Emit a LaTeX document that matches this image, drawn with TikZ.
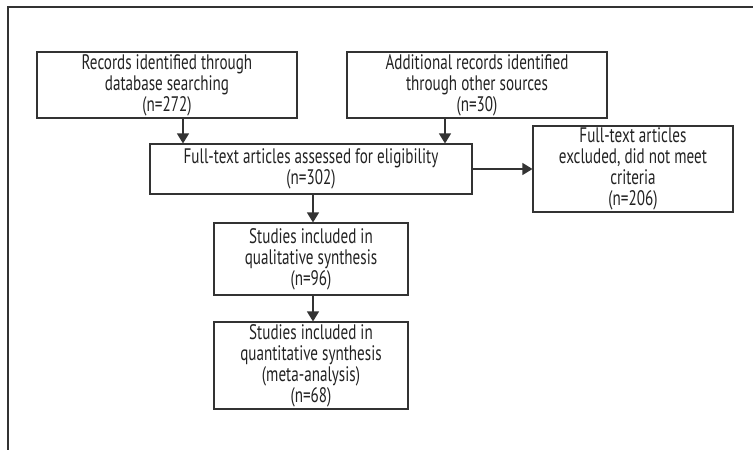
\documentclass[tikz,border=0pt]{standalone}
\usepackage{fontspec}
\setmainfont[FakeStretch=0.72]{PT Sans}
\usetikzlibrary{arrows.meta}
\definecolor{ln}{HTML}{333333}
\definecolor{tx}{HTML}{222222}
\tikzset{
  box/.style={draw=ln, line width=1.1pt, text=tx, align=center, inner sep=0pt,
    font=\fontsize{21}{21}\selectfont},
  arr/.style={draw=ln, line width=1.1pt, -{Triangle[width=12pt,length=10pt]}},
  frame/.style={draw=ln, line width=1.1pt}
}
\begin{document}
\begin{tikzpicture}[x=1pt,y=-1pt]
\useasboundingbox (0,0) rectangle (753,450);
\coordinate (f1) at (8,450);
\coordinate (f2) at (8,7);
\coordinate (f3) at (753,7);
\draw[frame] (f1) -- (f2) -- (f3);
\node[box, minimum width=260pt, minimum height=66pt] (A) at (167,85)
  {Records identified through\\database searching\\(n=272)};
\node[box, minimum width=260pt, minimum height=66pt] (B) at (477,85)
  {Additional records identified\\through other sources\\(n=30)};
\node[box, minimum width=322pt, minimum height=50pt] (C) at (311,169)
  {Full-text articles assessed for eligibility\\(n=302)};
\node[box, minimum width=200pt, minimum height=86pt] (D) at (633,169)
  {Full-text articles\\excluded, did not meet\\criteria\\(n=206)};
\node[box, minimum width=194pt, minimum height=72pt] (E) at (311,259)
  {Studies included in\\qualitative synthesis\\(n=96)};
\node[box, minimum width=194pt, minimum height=87pt] (F) at (311,365.5)
  {Studies included in\\quantitative synthesis\\(meta-analysis)\\(n=68)};
\draw[arr] ([xshift=16pt]A.south) -- ([xshift=16pt]A.south |- C.north);
\draw[arr] ([xshift=-32pt]B.south) -- ([xshift=-32pt]B.south |- C.north);
\draw[arr] (C.east) -- (D.west);
\draw[arr] ([xshift=2pt]C.south) -- ([xshift=2pt]E.north);
\draw[arr] ([xshift=2pt]E.south) -- ([xshift=2pt]F.north);
\end{tikzpicture}
\end{document}
